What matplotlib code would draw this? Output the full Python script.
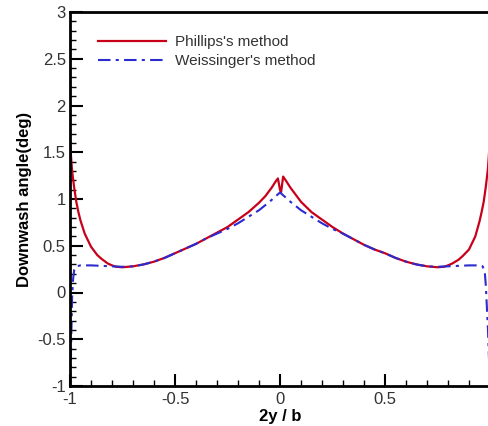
import numpy as np
import matplotlib.pyplot as plt
from matplotlib.ticker import MultipleLocator

plt.rcParams['font.family'] = ['Liberation Sans', 'DejaVu Sans']

# Phillips's method
phillips_x = [-1.0, -0.995, -0.99, -0.98, -0.97, -0.96, -0.95, -0.93, -0.9, -0.87,
              -0.85, -0.82, -0.8, -0.78, -0.75, -0.7, -0.65, -0.6, -0.55, -0.5,
              -0.45, -0.4, -0.35, -0.3, -0.25, -0.2, -0.15, -0.1, -0.07, -0.04,
              -0.02, -0.01, 0.0, 0.005, 0.015, 0.03, 0.05, 0.08, 0.1, 0.15,
              0.2, 0.25, 0.3, 0.35, 0.4, 0.45, 0.5, 0.55, 0.6, 0.65,
              0.7, 0.75, 0.78, 0.8, 0.82, 0.85, 0.87, 0.9, 0.93, 0.95,
              0.96, 0.97, 0.98, 0.99, 0.995, 1.0]
phillips_y = [1.62, 1.45, 1.30, 1.12, 0.97, 0.86, 0.77, 0.63, 0.49, 0.40,
              0.36, 0.31, 0.29, 0.275, 0.27, 0.28, 0.30, 0.33, 0.37, 0.42,
              0.47, 0.52, 0.58, 0.64, 0.70, 0.78, 0.86, 0.96, 1.03, 1.12,
              1.19, 1.22, 1.10, 1.07, 1.24, 1.19, 1.12, 1.03, 0.97, 0.86,
              0.78, 0.70, 0.63, 0.57, 0.51, 0.46, 0.42, 0.37, 0.33, 0.30,
              0.28, 0.27, 0.275, 0.29, 0.31, 0.35, 0.39, 0.46, 0.60, 0.76,
              0.86, 0.97, 1.13, 1.32, 1.48, 1.62]

# Weissinger's method
weiss_x = [-1.0, -0.997, -0.995, -0.99, -0.985, -0.98, -0.97, -0.95, -0.9, -0.85,
           -0.8, -0.75, -0.7, -0.65, -0.6, -0.55, -0.5, -0.45, -0.4, -0.35,
           -0.3, -0.25, -0.2, -0.15, -0.1, -0.05, 0.0, 0.05, 0.1, 0.15,
           0.2, 0.25, 0.3, 0.35, 0.4, 0.45, 0.5, 0.55, 0.6, 0.65,
           0.7, 0.75, 0.8, 0.85, 0.9, 0.95, 0.965, 0.975, 0.98,
           0.985, 0.99, 0.995, 1.0]
weiss_y = [-1.0, -0.8, -0.6, -0.05, 0.15, 0.24, 0.28, 0.29, 0.29, 0.285,
           0.28, 0.275, 0.28, 0.30, 0.33, 0.37, 0.42, 0.47, 0.52, 0.58,
           0.63, 0.68, 0.74, 0.81, 0.88, 0.97, 1.07, 0.97, 0.88, 0.81,
           0.74, 0.68, 0.63, 0.57, 0.51, 0.46, 0.42, 0.37, 0.33, 0.30,
           0.28, 0.275, 0.28, 0.285, 0.29, 0.29, 0.28, 0.22, 0.08,
           -0.15, -0.38, -0.7, -1.0]

fig = plt.figure(figsize=(4.88, 4.26), dpi=100)
ax = fig.add_axes([70 / 488, 40 / 426, 420 / 488, 374 / 426])

ax.plot(phillips_x, phillips_y, color='#c8001a', lw=1.6, label="Phillips's method")
ax.plot(weiss_x, weiss_y, color='#2b2bd0', lw=1.5, ls=(0, (6, 2.5, 1.5, 2.5)),
        label="Weissinger's method")

ax.set_xlim(-1, 1)
ax.set_ylim(-1, 3)
ax.xaxis.set_minor_locator(MultipleLocator(0.1))
ax.yaxis.set_minor_locator(MultipleLocator(0.1))
ax.set_xticks([-1, -0.5, 0, 0.5, 1])
ax.set_xticklabels(['-1', '-0.5', '0', '0.5', ''])
ax.set_yticks([-1, -0.5, 0, 0.5, 1, 1.5, 2, 2.5, 3])
ax.set_yticklabels(['-1', '-0.5', '0', '0.5', '1', '1.5', '2', '2.5', '3'])
ax.tick_params(which='major', direction='in', length=9, width=1.5,
               labelsize=12, labelcolor='#333333', pad=4)
ax.tick_params(which='minor', direction='in', length=4.5, width=1)
ax.tick_params(axis='y', pad=3)

for side in ['left', 'bottom', 'top']:
    ax.spines[side].set_linewidth(2)
ax.spines['right'].set_visible(False)

ax.set_xlabel('2y / b', fontsize=12, fontweight='bold', labelpad=2)
ax.set_ylabel('Downwash angle(deg)', fontsize=12, fontweight='bold', labelpad=4)

ax.legend(loc='upper left', bbox_to_anchor=(0.035, 0.975), frameon=False,
          fontsize=11, handlelength=4.4, handletextpad=0.6, labelspacing=0.35,
          labelcolor='#333333')

fig.savefig('out.png', dpi=100)
